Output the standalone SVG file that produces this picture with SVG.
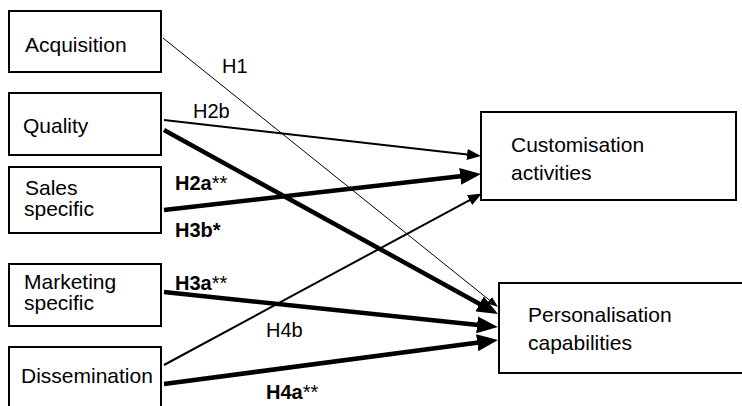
<svg xmlns="http://www.w3.org/2000/svg" width="742" height="406" viewBox="0 0 742 406">
  <style>
    .box { fill: #ffffff; stroke: #000000; stroke-width: 2; }
    .txt { font-family: "Liberation Sans", Arial, Helvetica, sans-serif; font-size: 21px; fill: #000000; }
    .lbl { font-family: "Liberation Sans", Arial, Helvetica, sans-serif; font-size: 20px; fill: #000000; }
    .b { font-weight: bold; }
    .n { font-weight: normal; }
    .edge { fill: none; stroke: #000000; stroke-linecap: butt; }
    .w1 { stroke-width: 1; }
    .w2 { stroke-width: 2; }
    .w4 { stroke-width: 4.5; }
  </style>
  <defs>
    <marker id="headThin" markerUnits="userSpaceOnUse" markerWidth="11" markerHeight="8" refX="6" refY="4" orient="auto">
      <path d="M0,0 L11,4 L0,8 z" fill="#000000"/>
    </marker>
    <marker id="headMid" markerUnits="userSpaceOnUse" markerWidth="14" markerHeight="11" refX="7" refY="5.5" orient="auto">
      <path d="M0,0 L14,5.5 L0,11 z" fill="#000000"/>
    </marker>
    <marker id="headThick" markerUnits="userSpaceOnUse" markerWidth="21" markerHeight="17" refX="11" refY="8.5" orient="auto">
      <path d="M0,0 L21,8.5 L0,17 z" fill="#000000"/>
    </marker>
  </defs>

  <!-- connectors -->
  <g id="connectors">
    <line class="edge w1" x1="163" y1="38" x2="494.1" y2="303.9" marker-end="url(#headThin)"/>
    <line class="edge w2" x1="164" y1="120" x2="474" y2="155.2" marker-end="url(#headMid)"/>
    <line class="edge w4" x1="164" y1="130" x2="489.2" y2="309.2" marker-end="url(#headThick)"/>
    <line class="edge w4" x1="164" y1="210" x2="471.1" y2="175.1" marker-end="url(#headThick)"/>
    <line class="edge w4" x1="164" y1="292" x2="488" y2="326" marker-end="url(#headThick)"/>
    <line class="edge w2" x1="164" y1="365" x2="475.7" y2="196.8" marker-end="url(#headMid)"/>
    <line class="edge w4" x1="164" y1="384" x2="488.1" y2="341.3" marker-end="url(#headThick)"/>
  </g>

  <!-- connector labels -->
  <g id="labels">
    <text class="lbl" x="222" y="73">H1</text>
    <text class="lbl" x="193" y="118">H2b</text>
    <text class="lbl" x="175" y="190"><tspan class="b">H2a</tspan><tspan class="n">**</tspan></text>
    <text class="lbl b" x="175" y="237">H3b*</text>
    <text class="lbl" x="175" y="290"><tspan class="b">H3a</tspan><tspan class="n">**</tspan></text>
    <text class="lbl" x="266" y="337">H4b</text>
    <text class="lbl" x="266" y="399"><tspan class="b">H4a</tspan><tspan class="n">**</tspan></text>
  </g>

  <!-- source nodes -->
  <g id="acquisition">
    <rect class="box" x="9" y="11" width="152" height="61"/>
    <text class="txt" x="25" y="52">Acquisition</text>
  </g>
  <g id="quality">
    <rect class="box" x="9" y="93" width="152" height="62"/>
    <text class="txt" x="23" y="133">Quality</text>
  </g>
  <g id="sales-specific">
    <rect class="box" x="9" y="167" width="152" height="66"/>
    <text class="txt" x="25" y="195">Sales</text>
    <text class="txt" x="24" y="216">specific</text>
  </g>
  <g id="marketing-specific">
    <rect class="box" x="9" y="264" width="152" height="62"/>
    <text class="txt" x="24" y="289">Marketing</text>
    <text class="txt" x="24" y="310">specific</text>
  </g>
  <g id="dissemination">
    <rect class="box" x="9" y="347" width="152" height="80"/>
    <text class="txt" x="21" y="383">Dissemination</text>
  </g>

  <!-- outcome nodes -->
  <g id="customisation-activities">
    <rect class="box" x="481" y="112" width="255" height="88"/>
    <text class="txt" x="511" y="152">Customisation</text>
    <text class="txt" x="511" y="180">activities</text>
  </g>
  <g id="personalisation-capabilities">
    <rect class="box" x="499" y="283" width="260" height="90"/>
    <text class="txt" x="528" y="322">Personalisation</text>
    <text class="txt" x="528" y="350">capabilities</text>
  </g>
</svg>
